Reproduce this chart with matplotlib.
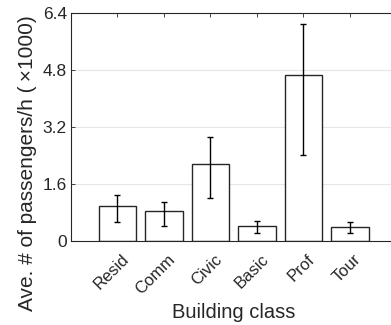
import matplotlib
matplotlib.use("Agg")
import matplotlib.pyplot as plt
import matplotlib.transforms as mtransforms
import numpy as np

categories = ["Resid", "Comm", "Civic", "Basic", "Prof", "Tour"]
means = [0.98, 0.83, 2.17, 0.43, 4.67, 0.39]
err_low = [0.54, 0.42, 1.21, 0.22, 2.41, 0.22]
err_high = [1.29, 1.10, 2.93, 0.57, 6.10, 0.54]
yticks = [0, 1.6, 3.2, 4.8, 6.4]
ytick_labels = ["0", "1.6", "3.2", "4.8", "6.4"]

plt.rcParams['font.family'] = ['Liberation Sans', 'DejaVu Sans']

fig = plt.figure(figsize=(3.91, 3.25), dpi=100)
ax = fig.add_axes([71/391, 84/325, 325.5/391, 228/325])

x = np.arange(1, len(categories) + 1)
m = np.array(means)
yerr = np.vstack([m - np.array(err_low), np.array(err_high) - m])

ax.bar(x, m, width=0.8, color='white', edgecolor='#262626', linewidth=1.0, zorder=2)
ax.errorbar(x, m, yerr=yerr, fmt='none', ecolor='black', elinewidth=1.0,
            capsize=2, capthick=1.0, zorder=3)

ax.set_xlim(0, 7)
ax.set_ylim(0, 6.4)
ax.set_yticks(yticks)
ax.set_yticklabels(ytick_labels, fontsize=12.5)
ax.set_xticks(x)
ax.set_xticklabels([""] * len(categories))
offset = mtransforms.ScaledTranslation(9/100, -16/100, fig.dpi_scale_trans)
for xi, name in zip(x, categories):
    ax.text(xi, 0, name, transform=ax.get_xaxis_transform() + offset,
            fontsize=12, rotation=45, ha='right', va='center',
            rotation_mode='anchor', color='#262626', clip_on=False)
ax.yaxis.grid(True, color='#e6e6e6', linewidth=0.8, zorder=0)
ax.set_axisbelow(True)
ax.tick_params(direction='in', length=3, width=0.6, top=True, right=True,
               colors='#262626', labelcolor='#262626')
ax.tick_params(axis='y', pad=3)
for s in ax.spines.values():
    s.set_color('#262626')
    s.set_linewidth(0.8)

ax.set_xlabel("Building class", fontsize=14.5, color='#262626')
ax.xaxis.set_label_coords(0.5, -0.27)
ax.set_ylabel("Ave. # of passengers/h (\u2009×1000)", fontsize=15, color='#262626',
              va='center')
ax.yaxis.set_label_coords(-0.134, 0.342)

fig.savefig("out.png", dpi=100)
